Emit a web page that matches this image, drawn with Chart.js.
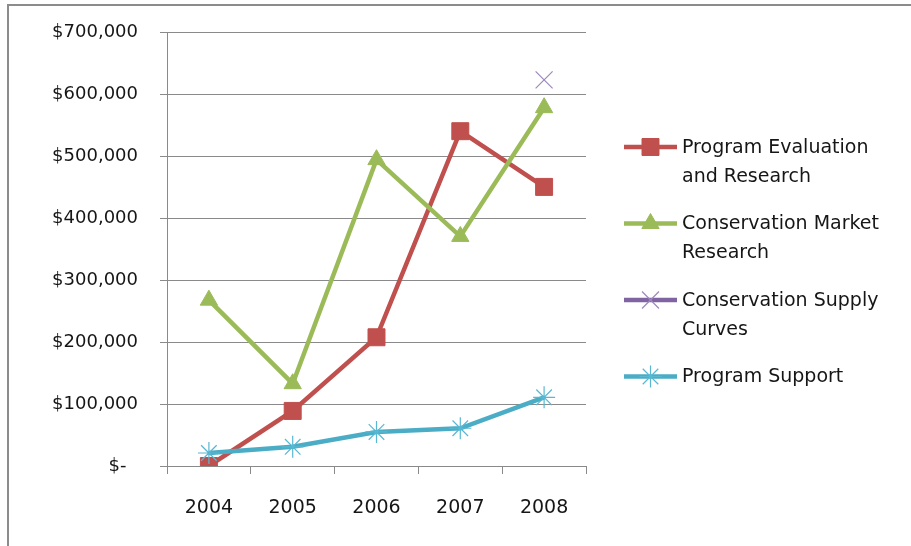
<!DOCTYPE html>
<html>
<head>
<meta charset="utf-8">
<script src="https://cdn.jsdelivr.net/npm/chart.js@4.4.1/dist/chart.umd.min.js"></script>
<style>
  body { margin: 0; background: #fff; }
  #wrap { position: relative; width: 911px; height: 546px; overflow: hidden; }
  #frame { position: absolute; left: 7px; top: 4px; right: -4px; bottom: -4px;
           border-left: 2px solid #8c8c8c; border-top: 2px solid #8c8c8c; }
  #myChart { position: absolute; left: 0; top: 0; }
</style>
</head>
<body>
<div id="wrap">
  <div id="frame"></div>
  <canvas id="myChart" width="911" height="546"></canvas>
</div>
<script>
const ctx = document.getElementById('myChart');

// jaren op de x-as
const years = ['2004', '2005', '2006', '2007', '2008'];

// bedragen per programma
const evaluation = [0, 89000, 208000, 541000, 451000];
const marketResearch = [268000, 133000, 495000, 371000, 579000];
const supplyCurves = [null, null, null, null, 624000];
const programSupport = [21000, 31000, 55000, 61000, 111000];

const seriesNames = ['Program Evaluation and Research', 'Conservation Market Research',
  'Conservation Supply Curves', 'Program Support'];

const yTicks = [0, 100000, 200000, 300000, 400000, 500000, 600000, 700000];

const font = '"DejaVu Sans", sans-serif';
const textColor = '#161616';
const gridColor = '#8a8a8a';

// zet 100000 om naar $100,000 en 0 naar $-
function money(v) {
  if (v === 0) return '$-  ';
  return '$' + v.toLocaleString('en-US');
}

// breekt lange namen af over twee regels
function wrap(c, text, maxW) {
  let words = text.split(' ');
  let lines = [];
  let line = '';
  for (let i = 0; i < words.length; i++) {
    let test = line ? line + ' ' + words[i] : words[i];
    if (line && c.measureText(test).width > maxW) {
      lines.push(line);
      line = words[i];
    } else {
      line = test;
    }
  }
  lines.push(line);
  return lines;
}

// eigen legenda rechts naast de grafiek
const sideLegend = {
  id: 'sideLegend',
  afterDraw(chart) {
    const c = chart.ctx;
    const lineX1 = 624, lineX2 = 677, textX = 682;
    let y = 147;
    c.save();
    c.font = '19px ' + font;
    c.textBaseline = 'middle';
    chart.data.datasets.forEach((ds) => {
      // lijnstuk
      c.strokeStyle = ds.borderColor;
      c.lineWidth = ds.borderWidth;
      c.beginPath();
      c.moveTo(lineX1, y);
      c.lineTo(lineX2, y);
      c.stroke();
      // marker
      c.fillStyle = ds.pointBackgroundColor;
      c.strokeStyle = ds.pointBorderColor;
      c.lineWidth = ds.pointBorderWidth;
      Chart.helpers.drawPoint(c, {
        pointStyle: ds.pointStyle,
        radius: ds.pointRadius,
        rotation: 0,
        borderWidth: ds.pointBorderWidth
      }, (lineX1 + lineX2) / 2, y);
      // tekst
      c.fillStyle = textColor;
      let lines = wrap(c, ds.label, 222);
      lines.forEach((l, i) => c.fillText(l, textX, y + 1 + i * 29));
      y += 76.5;
    });
    c.restore();
  }
};

new Chart(ctx, {
  type: 'line',
  data: {
    labels: years,
    datasets: [{
      label: seriesNames[0],
      data: evaluation,
      borderColor: '#c0504d',
      borderWidth: 4.5,
      pointStyle: 'rect',
      pointRadius: 12,
      pointBackgroundColor: '#c0504d',
      pointBorderColor: '#c0504d',
      pointBorderWidth: 1,
      order: 4
    }, {
      label: seriesNames[1],
      data: marketResearch,
      borderColor: '#9bbb59',
      borderWidth: 4.5,
      pointStyle: 'triangle',
      pointRadius: 10,
      pointBackgroundColor: '#9bbb59',
      pointBorderColor: '#9bbb59',
      pointBorderWidth: 1,
      order: 3
    }, {
      label: seriesNames[2],
      data: supplyCurves,
      borderColor: '#8064a2',
      borderWidth: 4.5,
      pointStyle: 'crossRot',
      pointRadius: 12,
      pointBackgroundColor: '#9d88bd',
      pointBorderColor: '#9d88bd',
      pointBorderWidth: 1.2,
      order: 2
    }, {
      label: seriesNames[3],
      data: programSupport,
      borderColor: '#4bacc6',
      borderWidth: 4.5,
      pointStyle: 'star',
      pointRadius: 11,
      pointBackgroundColor: '#4bacc6',
      pointBorderColor: '#58b8d2',
      pointBorderWidth: 1.2,
      order: 1
    }]
  },
  options: {
    responsive: false,
    animation: false,
    spanGaps: false,
    layout: { padding: { left: 0, top: 32, right: 325, bottom: 0 } },
    plugins: {
      legend: { display: false },
      tooltip: { enabled: false }
    },
    elements: { line: { tension: 0 } },
    scales: {
      x: {
        offset: true,
        grid: {
          offset: true,
          drawOnChartArea: false,
          drawTicks: true,
          tickLength: 8,
          color: gridColor
        },
        border: { color: gridColor, width: 1 },
        ticks: { color: textColor, font: { family: font, size: 19 }, padding: 23 },
        afterFit(scale) { scale.height = 80; }
      },
      y: {
        min: 0,
        max: 700000,
        afterBuildTicks(scale) { scale.ticks = yTicks.map(v => ({ value: v })); },
        grid: { color: gridColor, tickLength: 7 },
        border: { color: gridColor, width: 1 },
        ticks: {
          color: textColor,
          font: { family: font, size: 18 },
          padding: 22,
          callback: (v) => money(v)
        },
        afterFit(scale) { scale.width = 167; }
      }
    }
  },
  plugins: [sideLegend]
});
</script>
</body>
</html>
